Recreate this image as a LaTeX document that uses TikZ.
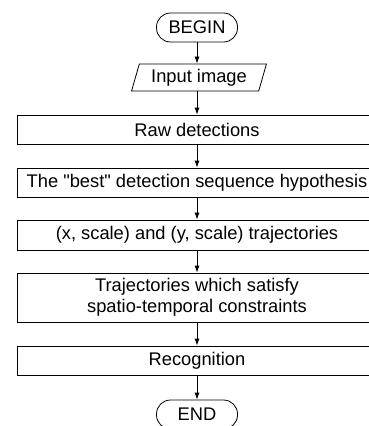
\documentclass[tikz,border=0pt]{standalone}
\usepackage{fontspec}
\setmainfont{Liberation Sans}[Ligatures=TeXOff]
\usetikzlibrary{shapes.geometric,arrows.meta}

\tikzset{
  stepbox/.style={draw, line width=0.8pt, minimum width=360pt, minimum height=29pt, inner sep=0pt, align=center},
  termbox/.style={draw, line width=0.8pt, rounded corners=14pt, minimum width=81pt, minimum height=29pt, inner sep=0pt},
  iobox/.style={draw, line width=0.8pt, trapezium, trapezium left angle=70, trapezium right angle=110,
    trapezium stretches=true, minimum width=135pt, minimum height=27pt, inner sep=0pt},
  flow/.style={-{Latex[length=7pt,width=5pt]}, line width=0.8pt}
}

\begin{document}
\begin{tikzpicture}[x=1pt,y=-1pt,font=\fontsize{18.3}{21.5}\selectfont]
    \useasboundingbox (0,0) rectangle (368,426);
    \node[termbox] (begin) at (197,27.5) {BEGIN};
    \node[iobox] (input) at (199,77.5) {Input image};
    \node[stepbox] (raw) at (197,129.5) {Raw detections};
    \node[stepbox] (best) at (197,182.5) {The "best" detection sequence hypothesis};
    \node[stepbox, minimum height=30pt] (xys) at (197,235) {(x, scale) and (y, scale) trajectories};
    \node[stepbox, minimum height=49pt] (traj) at (197,297.5) {Trajectories which satisfy\\spatio-temporal constraints};
    \node[stepbox] (recog) at (197,360.5) {Recognition};
    \node[termbox] (end) at (197,414.5) {END};
    \draw[flow] (begin) -- (begin |- input.north);
    \draw[flow] (begin |- input.south) -- (raw);
    \draw[flow] (raw) -- (best);
    \draw[flow] (best) -- (xys);
    \draw[flow] (xys) -- (traj);
    \draw[flow] (traj) -- (recog);
    \draw[flow] (recog) -- (end);
\end{tikzpicture}
\end{document}
